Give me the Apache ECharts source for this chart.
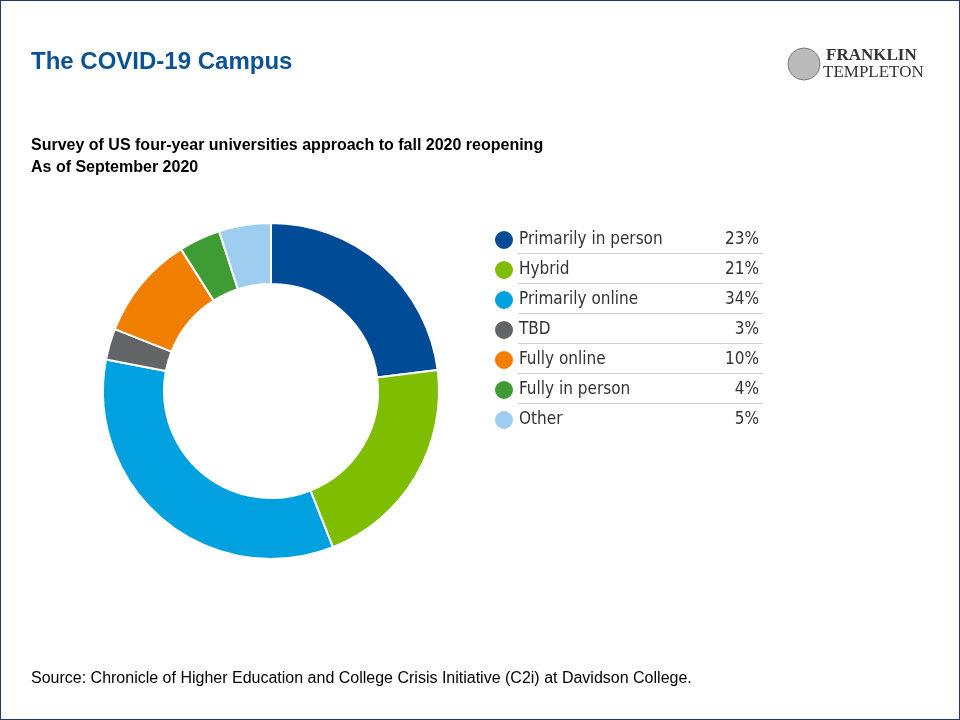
<!DOCTYPE html>
<html><head><meta charset="utf-8">
<script src="https://cdn.jsdelivr.net/npm/echarts@6/dist/echarts.min.js"></script>
<style>html,body{margin:0;padding:0;background:#fff}#c{width:960px;height:720px;box-sizing:border-box;border:1px solid #1f3864}</style>
</head><body><div id="c"></div>
<script>
const categories = ['Primarily in person','Hybrid','Primarily online','TBD','Fully online','Fully in person','Other'];
const values = [23,21,34,3,10,4,5];
const colors = ['#004b96','#7ebd00','#00a1de','#636466','#f07f00','#3f9c35','#9dcdef'];

const chart = echarts.init(document.getElementById('c'));
const lines = [];
for (let i = 0; i < categories.length - 1; i++) {
  lines.push({type:'line', shape:{x1:517,y1:252.5+30*i,x2:762,y2:252.5+30*i}, style:{stroke:'#d0d0d0',lineWidth:1}});
}
chart.setOption({
  animation:false,
  title:[
    {text:'The COVID-19 Campus', left:25, top:44, textStyle:{fontFamily:'Liberation Sans',fontSize:24,fontWeight:'bold',color:'#0b5394'}},
    {text:'Survey of US four-year universities approach to fall 2020 reopening\nAs of September 2020', left:25, top:129,
     textStyle:{fontFamily:'Liberation Sans',fontSize:16,fontWeight:'bold',color:'#000',lineHeight:22}},
    {text:'Source: Chronicle of Higher Education and College Crisis Initiative (C2i) at Davidson College.', left:25, top:665,
     textStyle:{fontFamily:'Liberation Sans',fontSize:16,fontWeight:'normal',color:'#000'}}
  ],
  legend:{
    orient:'vertical', left:487, top:223, itemWidth:20, itemHeight:20, itemGap:8, icon:'circle',
    data:categories,
    formatter:function(n){return '{n|'+n+'}{v|'+values[categories.indexOf(n)]+'%}';},
    textStyle:{fontFamily:'DejaVu Sans Condensed',fontSize:17,color:'#333',lineHeight:20,
      rich:{n:{width:200,lineHeight:20,fontFamily:'DejaVu Sans Condensed',fontSize:17,color:'#333'},v:{width:40,lineHeight:20,align:'right',fontFamily:'DejaVu Sans Condensed',fontSize:17,color:'#333'}}}
  },
  graphic:lines.concat([
    {type:'circle', shape:{cx:803,cy:63,r:16}, style:{fill:'#bbb',stroke:'#777',lineWidth:1}},
    {type:'text', left:825, top:46, style:{text:'FRANKLIN', font:'bold 17px "Liberation Serif"', fill:'#333'}},
    {type:'text', left:822, top:63, style:{text:'TEMPLETON', font:'17px "Liberation Serif"', fill:'#333'}}
  ]),
  series:[{
    type:'pie', center:[270,390], radius:[107,168], startAngle:90, clockwise:true,
    label:{show:false}, labelLine:{show:false},
    itemStyle:{borderColor:'#fff',borderWidth:2},
    data:categories.map((n,i)=>({name:n,value:values[i],itemStyle:{color:colors[i]}}))
  }]
});
</script></body></html>
